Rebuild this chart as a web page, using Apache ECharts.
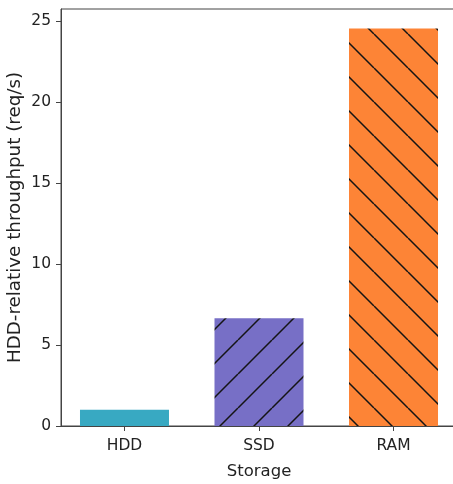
<!DOCTYPE html>
<html>
<head>
<meta charset="utf-8">
<script src="https://cdn.jsdelivr.net/npm/echarts@6/dist/echarts.min.js"></script>
<style>
  html, body { margin: 0; padding: 0; background: #fff; }
  #chart { width: 453px; height: 484px; }
</style>
</head>
<body>
<div id="chart"></div>
<script>
var categories = ['HDD', 'SSD', 'RAM'];
var values = [1.0, 6.65, 24.55];
var barColors = ['#38a9c2', '#776fc6', '#fd8436'];
var hatches = [null, '/', '\\'];
var yTicks = [0, 5, 10, 15, 20, 25];

// hatch pattern like matplotlib's '/' and '\'
function makeHatch(bg, dir) {
    var s = 34;
    var c = document.createElement('canvas');
    c.width = s;
    c.height = s;
    var ctx = c.getContext('2d');
    ctx.fillStyle = bg;
    ctx.fillRect(0, 0, s, s);
    ctx.strokeStyle = '#151515';
    ctx.lineWidth = 1.5;
    ctx.beginPath();
    if (dir === '/') {
        for (var k = -1; k <= 1; k++) {
            ctx.moveTo(k * s, s);
            ctx.lineTo(k * s + s, 0);
        }
    } else {
        for (var k = -1; k <= 1; k++) {
            ctx.moveTo(k * s, 0);
            ctx.lineTo(k * s + s, s);
        }
    }
    ctx.stroke();
    return c;
}

var barData = categories.map(function (name, i) {
    var col = hatches[i] ? { image: makeHatch(barColors[i], hatches[i]), repeat: 'repeat' } : barColors[i];
    return { value: [i, values[i]], itemStyle: { color: col } };
});

var chart = echarts.init(document.getElementById('chart'));
var font = 'DejaVu Sans';

var option = {
    animation: false,
    grid: {
        left: 61,
        top: 9,
        width: 396,
        bottom: 58,
        outerBoundsMode: 'none',
        containLabel: false,
        show: true,
        borderColor: '#444',
        borderWidth: 1,
        backgroundColor: 'transparent'
    },
    xAxis: {
        type: 'value',
        min: -0.472,
        max: 2.472,
        name: 'Storage',
        nameLocation: 'middle',
        nameGap: 37,
        nameMoveOverlap: false,
        nameTextStyle: { fontFamily: font, fontSize: 16.5, color: '#222' },
        splitLine: { show: false },
        axisLine: { show: true, onZero: false, lineStyle: { color: '#444', width: 1 } },
        axisTick: { show: true, length: 5, customValues: [0, 1, 2], lineStyle: { color: '#444' } },
        axisLabel: {
            customValues: [0, 1, 2],
            margin: 12,
            fontFamily: font,
            fontSize: 15.5,
            color: '#222',
            formatter: function (v) { return categories[Math.round(v)]; }
        }
    },
    yAxis: {
        type: 'value',
        min: 0,
        max: 25.75,
        interval: 5,
        name: 'HDD-relative throughput (req/s)',
        nameLocation: 'middle',
        nameGap: 37,
        nameMoveOverlap: false,
        nameTextStyle: { fontFamily: font, fontSize: 18.3, color: '#222' },
        splitLine: { show: false },
        axisLine: { show: true, onZero: false, lineStyle: { color: '#444', width: 1 } },
        axisTick: { show: true, length: 5, customValues: yTicks, lineStyle: { color: '#444' } },
        axisLabel: {
            customValues: yTicks,
            margin: 10,
            fontFamily: font,
            fontSize: 15.5,
            color: '#222'
        }
    },
    series: [{
        type: 'bar',
        barWidth: 89,
        data: barData
    }]
};
chart.setOption(option);
</script>
</body>
</html>
